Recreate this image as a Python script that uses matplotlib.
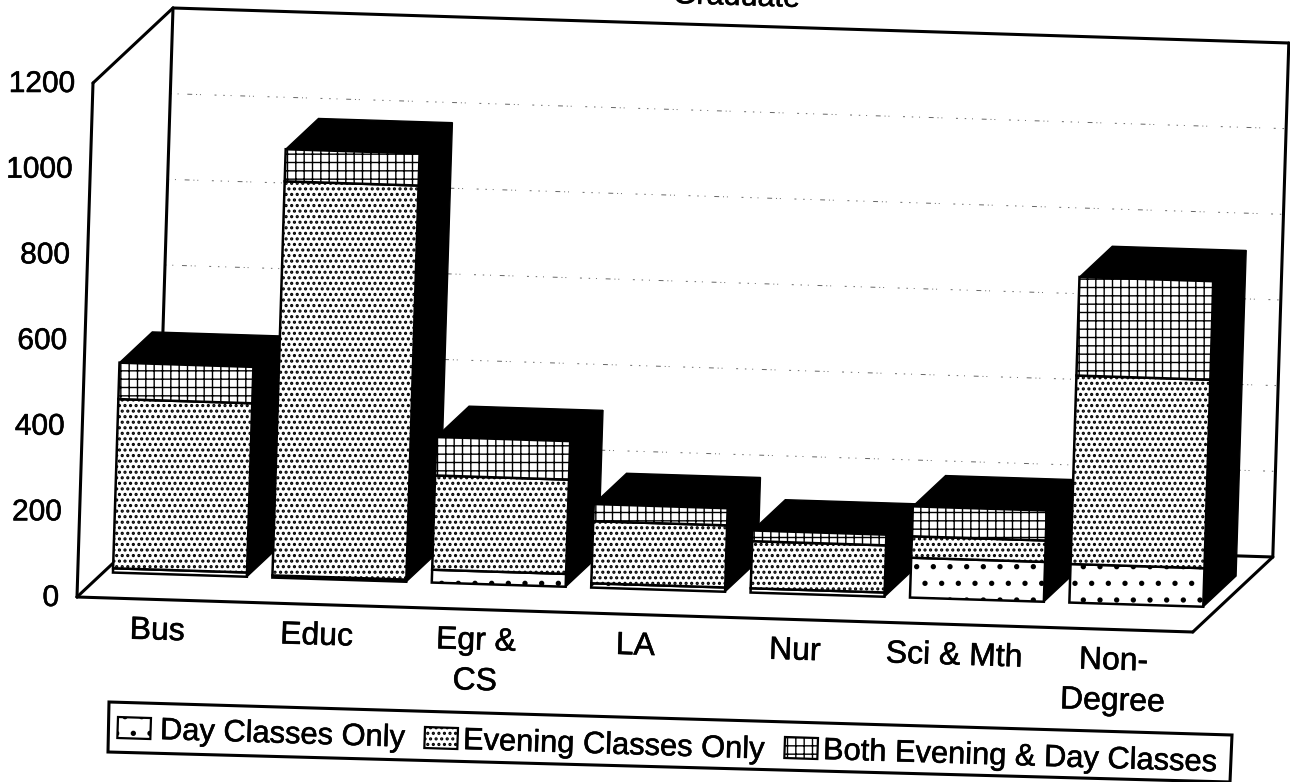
import numpy as np
import matplotlib
matplotlib.use('Agg')
import matplotlib.pyplot as plt
import matplotlib.patheffects as pe
from matplotlib.patches import Polygon, Rectangle
from matplotlib.transforms import Affine2D

plt.rcParams['font.family'] = ['Liberation Sans', 'DejaVu Sans']

# data
categories = ['Bus', 'Educ', 'Egr &\nCS', 'LA', 'Nur', 'Sci & Mth', 'Non-\nDegree']
day_only = [10, 5, 30, 10, 10, 93, 90]
evening_only = [395, 920, 220, 145, 110, 50, 440]
both_classes = [85, 75, 90, 40, 25, 70, 230]
y_ticks = [0, 200, 400, 600, 800, 1000, 1200]
series_names = ['Day Classes Only', 'Evening Classes Only', 'Both Evening & Day Classes']

# skewed "3D" geometry of the scanned page, in pixels
ORIGIN = np.array([77.0, 597.0])
X_VEC = np.array([159.4, 5.0])        # one category
Y_VEC = np.array([16.0, -514.0]) / 1200  # one unit of value
Z_VEC = np.array([80.0, -75.0])       # full depth of the floor
BAR_LEFT, BAR_W = 0.06, 0.84
BAR_Z, BAR_D = 0.33, 0.41
TILT = -1.8
LW = 2.2
INK = [pe.withStroke(linewidth=0.4, foreground='black')]  # scan makes the type a bit heavier

def proj(cat, val, depth=0.0):
    return ORIGIN + cat * X_VEC + val * Y_VEC + depth * Z_VEC

fig = plt.figure(figsize=(12.9, 7.82), dpi=100)
ax = fig.add_axes([0, 0, 1, 1])

# (category, value) -> page pixels, at the given depth
def plane(depth):
    o = ORIGIN + depth * Z_VEC
    m = [[X_VEC[0], Y_VEC[0], o[0]], [X_VEC[1], Y_VEC[1], o[1]], [0, 0, 1]]
    return Affine2D(np.array(m)) + ax.transData

def line(p, q):
    ax.plot([p[0], q[0]], [p[1], q[1]], color='black', lw=LW, solid_capstyle='round', zorder=2)

n = len(categories)
top = y_ticks[-1]

# walls and floor
line(proj(0, 0), proj(0, top))
line(proj(0, top), proj(0, top, 1))
line(proj(0, top, 1), proj(n, top, 1))
line(proj(0, top, 1), proj(0, 0, 1))
line(proj(n, top, 1), proj(n, 0, 1))
line(proj(0, 0), proj(n, 0))
line(proj(0, 0), proj(0, 0, 1))
line(proj(n, 0), proj(n, 0, 1))
line(proj(0, 0, 1), proj(n, 0, 1))

# broken up grid lines on the back wall
for v in y_ticks[1:-1]:
    p, q = proj(0, v, 1), proj(n, v, 1)
    ax.plot([p[0], q[0]], [p[1], q[1]], color='#666666', lw=0.7, zorder=1,
            linestyle=(0, (1.5, 6, 1, 9, 5, 4, 1, 3, 1, 14, 2, 7)))

# bars
hatches = ['.', '...', '++']
hatch_widths = [1.4, 1.5, 1.0]
lefts = np.arange(n) + BAR_LEFT
totals = np.array(day_only) + np.array(evening_only) + np.array(both_classes)
front = plane(BAR_Z)
for i in range(n):
    left, right = lefts[i], lefts[i] + BAR_W
    back = BAR_Z + BAR_D
    top_face = [proj(left, totals[i], BAR_Z), proj(right, totals[i], BAR_Z),
                proj(right, totals[i], back), proj(left, totals[i], back)]
    side_face = [proj(right, 0, BAR_Z), proj(right, totals[i], BAR_Z),
                 proj(right, totals[i], back), proj(right, 0, back)]
    z = 3 + i
    ax.add_patch(Polygon(top_face, closed=True, fc='black', ec='black', lw=1, zorder=z))
    ax.add_patch(Polygon(side_face, closed=True, fc='black', ec='black', lw=1, zorder=z))
    bottom = 0
    for vals, h, hw in zip([day_only, evening_only, both_classes], hatches, hatch_widths):
        plt.rcParams['hatch.linewidth'] = hw
        ax.bar(left, vals[i], width=BAR_W, bottom=bottom, align='edge', transform=front,
               facecolor='white', edgecolor='black', linewidth=1.8, hatch=h, zorder=z)
        bottom += vals[i]

# y tick labels
for v in y_ticks:
    p = proj(0, v)
    ax.text(p[0] - 18, p[1] + 1, str(v), ha='right', va='center', fontsize=21.5, path_effects=INK)

# category labels
for i, name in enumerate(categories):
    p = proj(i + 0.5, 0)
    ax.text(p[0] + 1, p[1] + 17, name, ha='center', va='top', fontsize=23, rotation=TILT,
            rotation_mode='anchor', linespacing=1.45, multialignment='center', path_effects=INK)

# title, cut off by the top of the page
ax.text(736, 5, 'Graduate', ha='center', va='baseline', fontsize=22, rotation=TILT,
        rotation_mode='anchor', path_effects=INK)

# legend box, skewed with the page
ax.add_patch(Polygon([(109, 702), (1232, 735), (1230, 782), (108, 752)], closed=True,
                     fc='white', ec='black', lw=LW, zorder=20))
swatch_pos = [(118, 717), (425, 727), (785, 737)]
text_pos = [(160, 731), (463, 741), (823, 751)]
for (sx, sy), (tx, ty), name, h, hw in zip(swatch_pos, text_pos, series_names, hatches, hatch_widths):
    plt.rcParams['hatch.linewidth'] = hw
    ax.add_patch(Rectangle((sx, sy), 33, 21, angle=-TILT, fc='white', ec='black', lw=1.6,
                           hatch=h, zorder=21))
    ax.text(tx, ty, name, ha='left', va='center', fontsize=22.2, rotation=TILT,
            rotation_mode='anchor', zorder=21, path_effects=INK)

ax.set_xlim(0, 1290)
ax.set_ylim(782, 0)
ax.axis('off')
fig.savefig('out.png', dpi=100)
